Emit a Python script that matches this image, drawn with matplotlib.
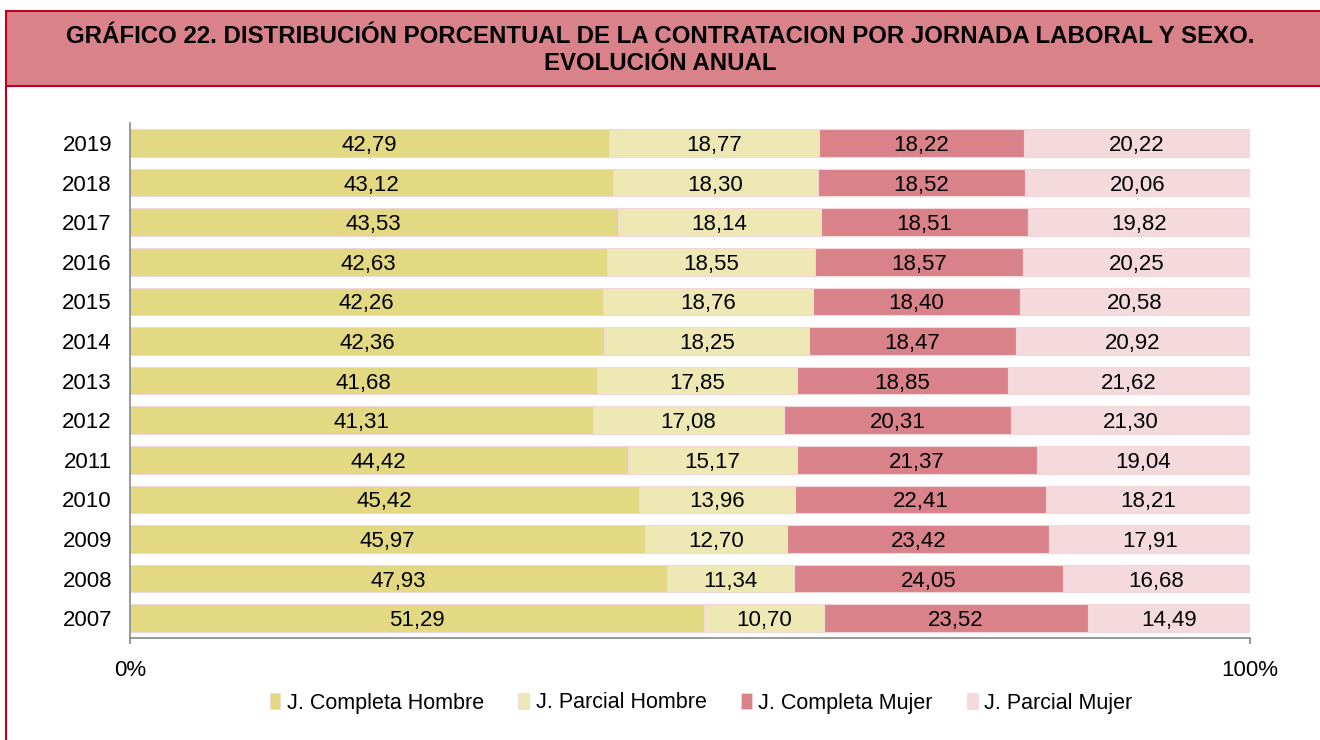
import numpy as np
import matplotlib.pyplot as plt
from matplotlib.patches import Rectangle, Patch
from matplotlib.lines import Line2D

plt.rcParams['font.family'] = ['Liberation Sans', 'DejaVu Sans']

years = ['2019', '2018', '2017', '2016', '2015', '2014', '2013',
         '2012', '2011', '2010', '2009', '2008', '2007']
completa_hombre = [42.79, 43.12, 43.53, 42.63, 42.26, 42.36, 41.68,
                   41.31, 44.42, 45.42, 45.97, 47.93, 51.29]
parcial_hombre = [18.77, 18.30, 18.14, 18.55, 18.76, 18.25, 17.85,
                  17.08, 15.17, 13.96, 12.70, 11.34, 10.70]
completa_mujer = [18.22, 18.52, 18.51, 18.57, 18.40, 18.47, 18.85,
                  20.31, 21.37, 22.41, 23.42, 24.05, 23.52]
parcial_mujer = [20.22, 20.06, 19.82, 20.25, 20.58, 20.92, 21.62,
                 21.30, 19.04, 18.21, 17.91, 16.68, 14.49]

series_names = ['J. Completa Hombre', 'J. Parcial Hombre',
                'J. Completa Mujer', 'J. Parcial Mujer']
colors = ['#E2D982', '#EEE8B4', '#D9828A', '#F5DADD']

title_lines = ['GRÁFICO 22. DISTRIBUCIÓN PORCENTUAL DE LA CONTRATACION POR JORNADA LABORAL Y SEXO.',
               'EVOLUCIÓN ANUAL']

fig = plt.figure(figsize=(13.2, 7.4), dpi=100)

# title band and left frame line
fig.patches.append(Rectangle((6 / 1320, 1 - 86 / 740), 1.1, 75 / 740, transform=fig.transFigure,
                             facecolor='#D9828A', edgecolor='#C0001E', linewidth=1.5, zorder=0))
fig.lines.append(Line2D([6 / 1320, 6 / 1320], [0, 1 - 86 / 740], transform=fig.transFigure,
                        color='#C0001E', linewidth=1.5))
fig.text(0.5, 1 - 34 / 740, title_lines[0], ha='center', va='center_baseline', fontsize=17.3,
         fontweight='bold')
fig.text(0.5, 1 - 61 / 740, title_lines[1], ha='center', va='center_baseline', fontsize=17.3,
         fontweight='bold')

ax = fig.add_axes([130 / 1320, 1 - 638 / 740, 1120 / 1320, 514.8 / 740])

data = np.array([completa_hombre, parcial_hombre, completa_mujer, parcial_mujer])
data = data / data.sum(axis=0) * 100
ypos = np.arange(len(years))[::-1]

left = np.zeros(len(years))
raw = [completa_hombre, parcial_hombre, completa_mujer, parcial_mujer]
for i in range(4):
    ax.barh(ypos, data[i], left=left, height=0.7, color=colors[i],
            edgecolor='#F2D6D9', linewidth=0.8, label=series_names[i])
    for j in range(len(years)):
        ax.text(left[j] + data[i][j] / 2, ypos[j], f"{raw[i][j]:.2f}".replace('.', ','),
                ha='center', va='center_baseline', fontsize=16)
    left += data[i]

ax.set_xlim(0, 100)
ax.set_ylim(-0.5, 12.5)
ax.set_yticks(ypos)
ax.set_yticklabels(years, fontsize=16)
ax.set_xticks([0, 100])
ax.set_xticklabels(['0%', '100%'], fontsize=16)
ax.tick_params(axis='y', length=0, pad=13)
ax.tick_params(axis='x', length=4.5, width=1.2, color='#888888', pad=11)
for s in ['top', 'right']:
    ax.spines[s].set_visible(False)
for s in ['left', 'bottom']:
    ax.spines[s].set_color('#888888')
    ax.spines[s].set_linewidth(1.2)

handles = [Patch(facecolor=c, edgecolor='#F2D6D9', linewidth=0.5) for c in colors]
fig.legend(handles, series_names, loc='center', bbox_to_anchor=(701 / 1320, 1 - 703 / 740),
           ncol=4, frameon=False, fontsize=15.5, handlelength=0.5, handleheight=0.7,
           handletextpad=0.3, columnspacing=1.6)

plt.savefig('out.png', dpi=100)
